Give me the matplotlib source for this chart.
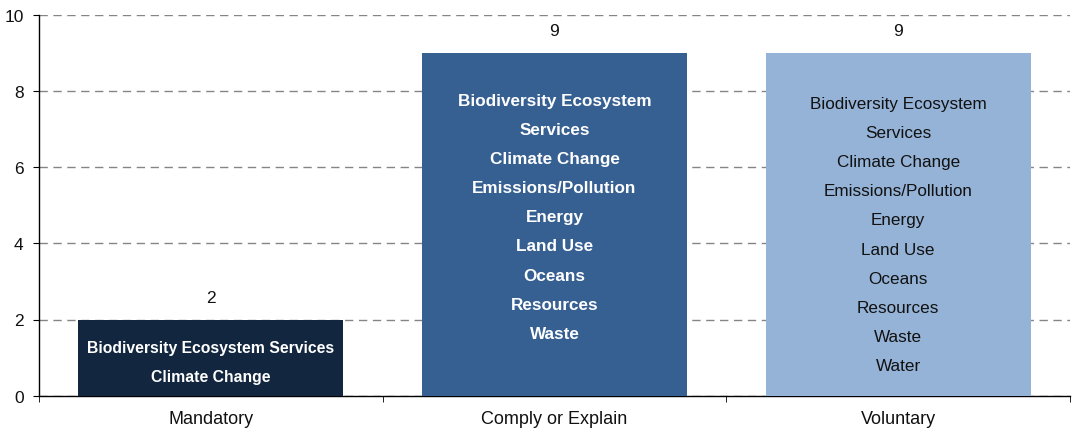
import matplotlib.pyplot as plt
import numpy as np

plt.rcParams['font.family'] = ['Liberation Sans', 'DejaVu Sans']

categories = ["Mandatory", "Comply or Explain", "Voluntary"]
counts = [2, 9, 9]
topics = [
    ["Biodiversity Ecosystem Services", "Climate Change"],
    ["Biodiversity Ecosystem", "Services", "Climate Change", "Emissions/Pollution",
     "Energy", "Land Use", "Oceans", "Resources", "Waste"],
    ["Biodiversity Ecosystem", "Services", "Climate Change", "Emissions/Pollution",
     "Energy", "Land Use", "Oceans", "Resources", "Waste", "Water"],
]
colors = ["#13263f", "#376092", "#95b3d7"]
text_colors = ["white", "white", "#111111"]
weights = ["bold", "bold", "normal"]
text_sizes = [11.3, 12.3, 12.3]
# where the first topic line sits, and spacing between lines (data units)
first_line = [1.26, 7.76, 7.68]
step = 0.766

fig = plt.figure(figsize=(10.73, 4.31), dpi=100)
ax = fig.add_axes([39/1073, 1 - 396.7/431, 1031/1073, 381/431])

x = np.arange(len(categories))
bars = ax.bar(x, counts, width=0.771, color=colors, zorder=3)

for i, b in enumerate(bars):
    ax.annotate(str(counts[i]), (b.get_x() + b.get_width()/2, b.get_height()),
                xytext=(0, 22), textcoords="offset pixels",
                ha="center", va="center", fontsize=12.5, color="#111111")
    for j, t in enumerate(topics[i]):
        ax.text(x[i], first_line[i] - j*step, t, ha="center", va="center",
                fontsize=text_sizes[i], color=text_colors[i], fontweight=weights[i], zorder=4)

ax.set_xlim(-0.5, 2.5)
ax.set_ylim(0, 10)
ax.set_yticks([0, 2, 4, 6, 8, 10])
ax.set_xticks(x)
ax.set_xticklabels(categories, fontsize=13, color="#111111")
ax.set_xticks([-0.5, 0.5, 1.5, 2.5], minor=True)
ax.tick_params(axis="x", which="major", length=0, pad=10)
ax.tick_params(axis="x", which="minor", length=4, direction="out", color="black")
ax.tick_params(axis="y", length=4, direction="out", labelsize=12.5, labelcolor="#111111", pad=7)

ax.yaxis.grid(True, color="#858585", linestyle=(0, (6, 4)), linewidth=1, zorder=0)
ax.set_axisbelow(True)
for s in ["top", "right"]:
    ax.spines[s].set_visible(False)
ax.spines["left"].set_linewidth(1)
ax.spines["bottom"].set_linewidth(1)

fig.savefig("out.png", dpi=100)
